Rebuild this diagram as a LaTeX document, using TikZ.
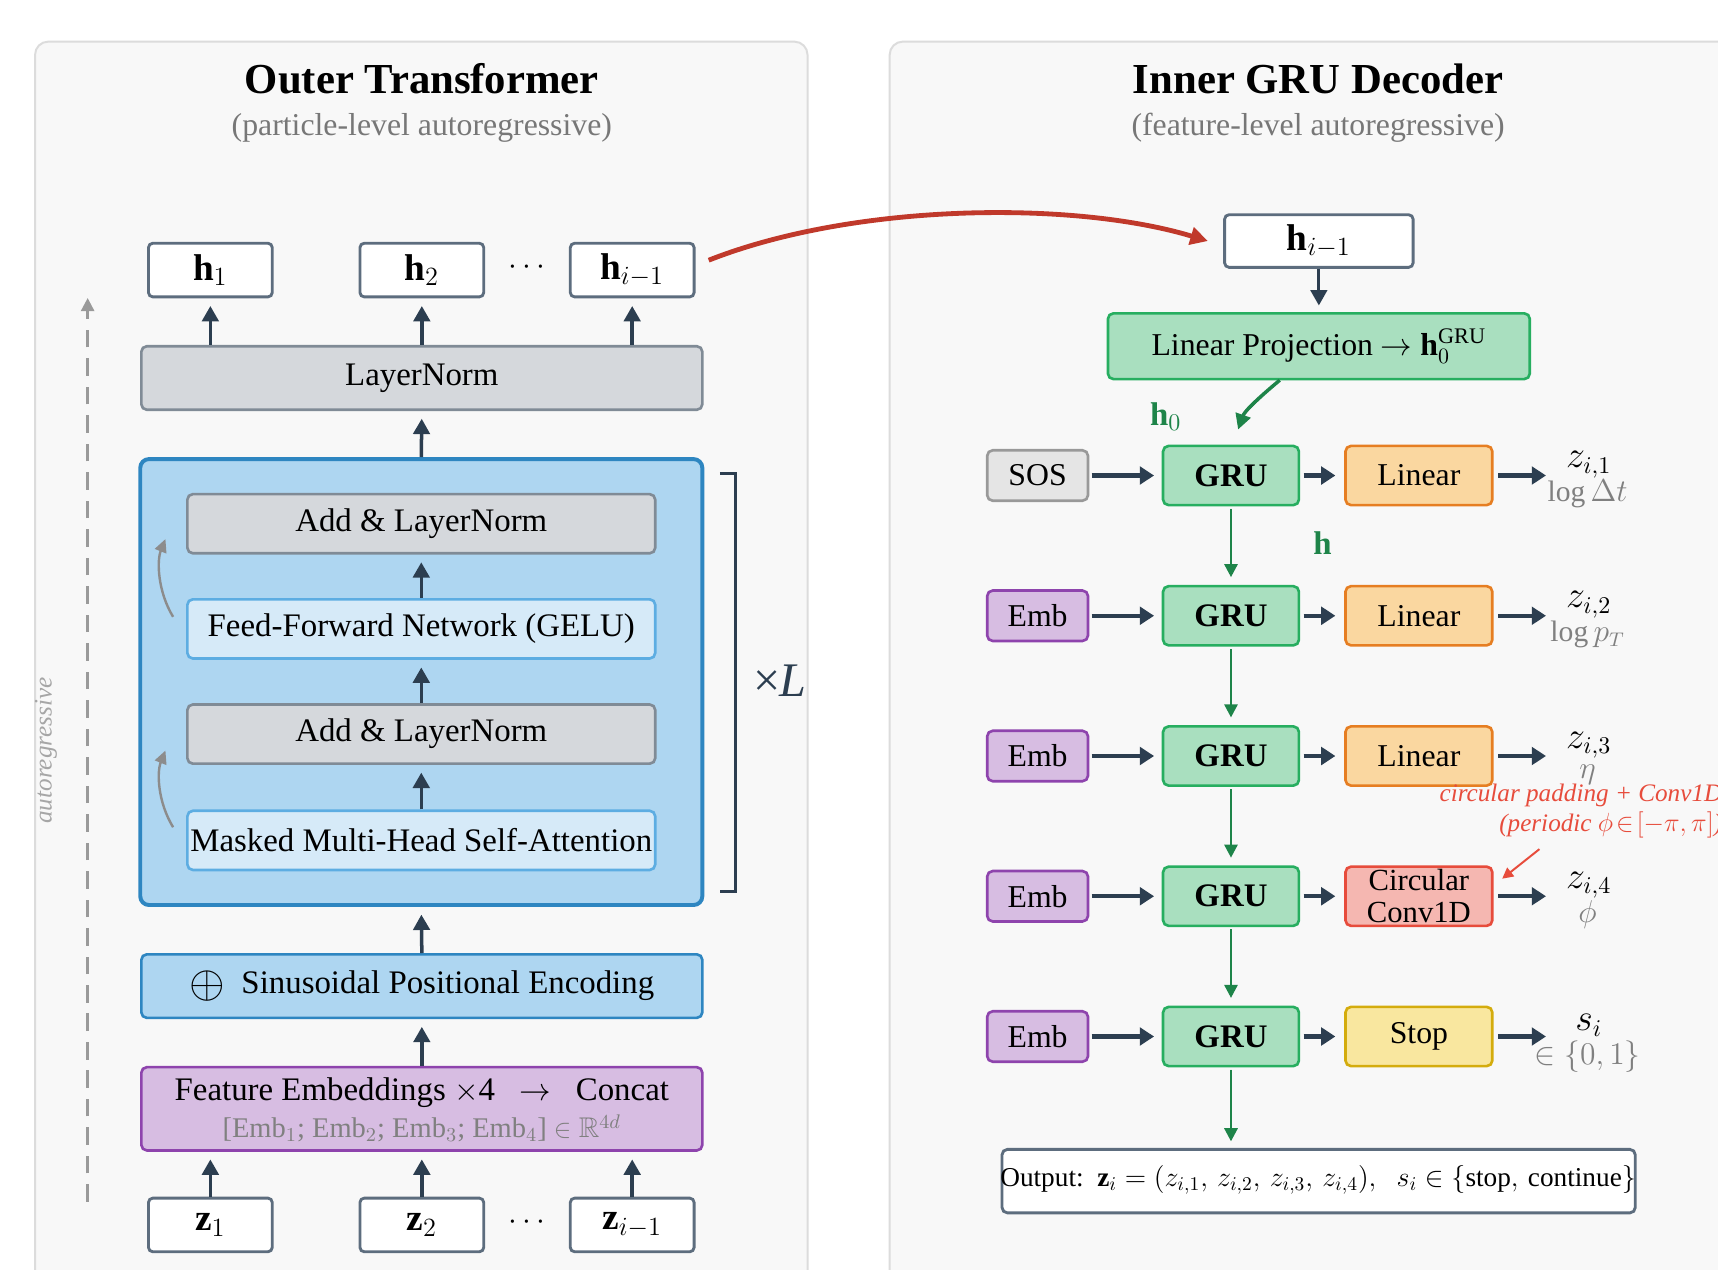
\documentclass[tikz,border=0pt]{standalone}
\usepackage{amsmath,amssymb}
\usepackage{fontspec}
\setmainfont{Liberation Serif}
\usetikzlibrary{arrows.meta}
\definecolor{panelfill}{HTML}{F8F8F8}
\definecolor{panelline}{HTML}{DCDCDC}
\definecolor{dark}{HTML}{2C3E50}
\definecolor{hline}{HTML}{5D6D7E}
\definecolor{grayfill}{HTML}{D5D8DC}
\definecolor{grayline}{HTML}{808B96}
\definecolor{bluefill}{HTML}{AED6F1}
\definecolor{blueline}{HTML}{2E86C1}
\definecolor{lbluefill}{HTML}{D6EAF8}
\definecolor{lblueline}{HTML}{5DADE2}
\definecolor{purfill}{HTML}{D7BDE2}
\definecolor{purline}{HTML}{8E44AD}
\definecolor{grufill}{HTML}{A9DFBF}
\definecolor{gruline}{HTML}{27AE60}
\definecolor{garrow}{HTML}{1E8449}
\definecolor{linfill}{HTML}{FAD7A0}
\definecolor{linline}{HTML}{E67E22}
\definecolor{circfill}{HTML}{F5B7B1}
\definecolor{circline}{HTML}{E74C3C}
\definecolor{stopfill}{HTML}{F9E79F}
\definecolor{stopline}{HTML}{D4AC0D}
\definecolor{sosfill}{HTML}{E5E5E5}
\definecolor{sosline}{HTML}{999999}
\definecolor{redcurve}{HTML}{C0392B}
\definecolor{subgray}{HTML}{777777}
\definecolor{labgray}{HTML}{808080}
\definecolor{resgray}{HTML}{8C8C8C}
\begin{document}
\begin{tikzpicture}[x=0.5pt,y=-0.5pt,
  panel/.style={draw=panelline,fill=panelfill,line width=0.9pt,rounded corners=6pt},
  titletext/.style={font=\fontsize{19.5}{23}\selectfont\bfseries},
  subtext/.style={font=\fontsize{14.5}{17}\selectfont,text=subgray},
  lfont/.style={font=\fontsize{15}{18}\selectfont},
  rfont/.style={font=\fontsize{14.5}{17}\selectfont},
  hbox/.style={draw=hline,fill=white,line width=1.3pt,rounded corners=2pt,minimum width=56.5pt,minimum height=24.5pt,inner sep=0pt,font=\fontsize{17}{20}\selectfont},
  graybox/.style={lfont,draw=grayline,fill=grayfill,line width=1.2pt,rounded corners=2.5pt,inner sep=0pt},
  lbluebox/.style={lfont,draw=lblueline,fill=lbluefill,line width=1.2pt,rounded corners=2.5pt,inner sep=0pt,minimum width=213.5pt,minimum height=27pt},
  wide/.style={minimum width=256pt,minimum height=29pt},
  inner/.style={minimum width=213.5pt,minimum height=27pt},
  darr/.style={-{Triangle[length=7pt,width=7.5pt]},line width=1.6pt,draw=dark,shorten >=3.5pt},
  harr/.style={-{Triangle[length=6.5pt,width=8pt]},line width=2pt,draw=dark},
  garr/.style={-{Triangle[length=6pt,width=6pt]},line width=1.2pt,draw=garrow,fill=garrow},
  grubox/.style={rfont,font=\fontsize{15}{18}\selectfont\bfseries,draw=gruline,fill=grufill,line width=1.2pt,rounded corners=2.5pt,minimum width=62pt,minimum height=27pt,inner sep=0pt},
  inbox/.style={rfont,line width=1.2pt,rounded corners=2.5pt,minimum width=46pt,minimum height=23pt,inner sep=0pt},
  outbox/.style={rfont,line width=1.2pt,rounded corners=2.5pt,minimum width=67pt,minimum height=27pt,inner sep=0pt},
  zlab/.style={font=\fontsize{16}{18}\selectfont},
  glab/.style={font=\fontsize{13.5}{16}\selectfont,text=labgray},
]
\useasboundingbox (0,0) rectangle (1568,1159);
\clip (0,0) rectangle (1568,1159);
\fill[white] (0,0) rectangle (1568,1159);

% panels
\draw[panel] (32,38) rectangle (737,1200);
\draw[panel] (812,38) rectangle (1620,1200);
\node[titletext] (tl) at (385,72) {Outer Transformer};
\node[subtext] (sl) at (385,117) {(particle-level autoregressive)};
\node[titletext] (tr) at (1203,72) {Inner GRU Decoder};
\node[subtext] (sr) at (1203,117) {(feature-level autoregressive)};

% ---------------- left ----------------
\node[hbox] (h1) at (192,246.5) {\textbf{h}$_1$};
\node[hbox] (h2) at (385,246.5) {\textbf{h}$_2$};
\node[hbox] (hi) at (577,246.5) {\textbf{h}$_{i-1}$};
\node[lfont] (hd) at (483,244) {$\cdots$};

\node[graybox,wide] (ln) at (385,345) {LayerNorm};
\node[draw=blueline,fill=bluefill,line width=1.8pt,rounded corners=4pt,minimum width=256.5pt,minimum height=203.5pt,inner sep=0pt] (blk) at (384.5,622.5) {};
\node[graybox,inner] (al1) at (384.5,478) {Add \& LayerNorm};
\node[lbluebox] (ffn) at (384.5,574) {Feed-Forward Network (GELU)};
\node[graybox,inner] (al2) at (384.5,670) {Add \& LayerNorm};
\node[lbluebox] (mha) at (384.5,767) {Masked Multi-Head Self-Attention};

\node[lfont,draw=blueline,fill=bluefill,line width=1.2pt,rounded corners=2.5pt,inner sep=0pt,wide] (pe) at (385,900) {\raisebox{-0.25ex}{\scalebox{1.45}{$\oplus$}}\enspace Sinusoidal Positional Encoding};
\node[draw=purline,fill=purfill,line width=1.2pt,rounded corners=2.5pt,inner sep=0pt,minimum width=256pt,minimum height=38pt] (fe) at (385,1012) {};
\node[lfont] (fe1) at (385,997) {Feature Embeddings $\times$4\enspace\ $\rightarrow$\enspace\ Concat};
\node[font=\fontsize{13}{15}\selectfont,text=labgray] (fe2) at (385,1030) {[Emb$_1$; Emb$_2$; Emb$_3$; Emb$_4$] $\in\mathbb{R}^{4d}$};

\node[hbox] (z1) at (192,1118) {\textbf{z}$_1$};
\node[hbox] (z2) at (385,1118) {\textbf{z}$_2$};
\node[hbox] (zi) at (577,1118) {\textbf{z}$_{i-1}$};
\node[lfont] (zd) at (483,1116) {$\cdots$};

\foreach \a in {z1,z2,zi} \draw[darr] (\a.north) -- (\a.north |- fe.south);
\draw[darr] (fe.north) -- (pe.south);
\draw[darr] (pe.north) -- (blk.south);
\draw[darr] (blk.north) -- (ln.south);
\foreach \a in {h1,h2,hi} \draw[darr] (\a.south |- ln.north) -- (\a.south);
\draw[darr] (mha.north) -- (al2.south);
\draw[darr] (al2.north) -- (ffn.south);
\draw[darr] (ffn.north) -- (al1.south);

% residual arrows
\coordinate (r1s) at (158,563); \coordinate (r1e) at (151,492);
\coordinate (r2s) at (158,755); \coordinate (r2e) at (151,685);
\draw[resgray,line width=1.1pt,-{Triangle[length=6pt,width=5.5pt]}] (r1s) .. controls (144,540) and (143,512) .. (r1e);
\draw[resgray,line width=1.1pt,-{Triangle[length=6pt,width=5.5pt]}] (r2s) .. controls (144,732) and (143,705) .. (r2e);

% bracket
\draw[dark,line width=1.3pt] (657,432) -- (671,432) -- (671,814) -- (657,814);
\node[font=\fontsize{22}{26}\selectfont,text=dark] (xl) at (712,621) {×\kern-0.5pt\textit{L}};

% autoregressive dashed
\coordinate (ads) at (80,1097); \coordinate (ade) at (80,272);
\draw[labgray!80,line width=1.1pt,dash pattern=on 8pt off 5pt,-{Triangle[length=6pt,width=6pt]}] (ads) -- (ade);
\node[font=\fontsize{11.5}{14}\selectfont\itshape,text=labgray!70,rotate=90] (arl) at (42,685) {autoregressive};

% ---------------- right ----------------
\node[hbox,minimum width=86pt,minimum height=24pt] (hr) at (1203.7,220) {\textbf{h}$_{i-1}$};
\node[rfont,draw=gruline,fill=grufill,line width=1.2pt,rounded corners=2.5pt,minimum width=192.5pt,minimum height=30pt,inner sep=0pt] (lp) at (1203.7,316) {Linear Projection $\rightarrow$ $\mathbf{h}_0^{\mathrm{GRU}}$};
\draw[darr,line width=1.4pt,shorten >=3pt] (hr.south) -- (lp.north);
\draw[redcurve,line width=2.2pt,-{Triangle[length=8pt,width=8pt]}] ([xshift=6pt,yshift=4.5pt]hi.east) .. controls (780,185) and (980,183) .. ([xshift=-7pt]hr.west);

% rows
\foreach \k/\y in {1/434,2/562,3/690,4/818,5/946}{
  \node[grubox] (g\k) at (1123.5,\y) {GRU};
  \coordinate (e\k) at (1411,\y);
}
\node[inbox,draw=sosline,fill=sosfill] (in1) at (947,434) {SOS};
\foreach \k/\y in {2/562,3/690,4/818,5/946}
  \node[inbox,draw=purline,fill=purfill] (in\k) at (947,\y) {Emb};
\node[outbox,draw=linline,fill=linfill] (o1) at (1295,434) {Linear};
\node[outbox,draw=linline,fill=linfill] (o2) at (1295,562) {Linear};
\node[outbox,draw=linline,fill=linfill] (o3) at (1295,690) {Linear};
\node[outbox,draw=circline,fill=circfill,align=center,font=\fontsize{14}{14.5}\selectfont] (o4) at (1295,818) {Circular\\Conv1D};
\node[outbox,draw=stopline,fill=stopfill] (o5) at (1295,946) {Stop};

\foreach \k in {1,...,5}{
  \draw[harr,shorten >=3.5pt,shorten <=1pt] (in\k.east) -- (g\k.west);
  \draw[harr,shorten >=4pt,shorten <=1.5pt] (g\k.east) -- (o\k.west);
  \draw[harr,shorten <=2pt] (o\k.east) -- (e\k);
}
\foreach \a/\b in {1/2,2/3,3/4,4/5}
  \draw[garr,shorten >=3.5pt,shorten <=1pt] (g\a.south) -- (g\b.north);

% labels
\node[zlab] (l1a) at (1450,424) {$z_{i,1}$};
\node[glab] (l1b) at (1449,451) {$\log\Delta t$};
\node[zlab] (l2a) at (1450,552) {$z_{i,2}$};
\node[glab] (l2b) at (1449,579) {$\log p_T$};
\node[zlab] (l3a) at (1450,680) {$z_{i,3}$};
\node[glab] (l3b) at (1449,707) {$\eta$};
\node[zlab] (l4a) at (1450,808) {$z_{i,4}$};
\node[glab] (l4b) at (1449,835) {$\phi$};
\node[zlab] (l5a) at (1450,936) {$s_i$};
\node[glab] (l5b) at (1449,964) {$\in\{0,1\}$};

% h0 and h
\draw[garr,line width=1.6pt,-{Triangle[length=7pt,width=7pt]}] (1168,347) .. controls (1150,362) and (1136,375) .. (1130,392);
\node[font=\fontsize{15}{18}\selectfont,text=garrow] (h0l) at (1064,380) {$\mathbf{h}_0$};
\node[font=\fontsize{15}{18}\selectfont,text=garrow] (hl) at (1207,496) {$\mathbf{h}$};

% annotation
\node[font=\fontsize{11.5}{13.5}\selectfont\itshape,text=circline,align=right,anchor=east] (ann) at (1579,740) {circular padding + Conv1D\\(periodic $\phi\!\in\![-\pi,\pi]$)};
\coordinate (an1) at (1405,775); \coordinate (an2) at (1371,802);
\draw[circline,line width=0.9pt,-{Triangle[length=5pt,width=5pt]}] (an1) -- (an2);

% output
\node[draw=hline,fill=white,line width=1.3pt,rounded corners=2.5pt,minimum width=289pt,minimum height=29pt,inner sep=0pt] (out) at (1203.5,1078) {};
\node[font=\fontsize{14}{17}\selectfont,inner sep=0pt] (outt) at (1203,1077) {\resizebox{290pt}{!}{Output:\enspace$\mathbf{z}_i=(z_{i,1},\,z_{i,2},\,z_{i,3},\,z_{i,4}),\;\;s_i\in\{\mbox{stop},\,\mbox{continue}\}$}};
\draw[garr,shorten >=3pt,shorten <=1pt] (g5.south) -- (g5.south |- out.north);
\end{tikzpicture}
\end{document}
